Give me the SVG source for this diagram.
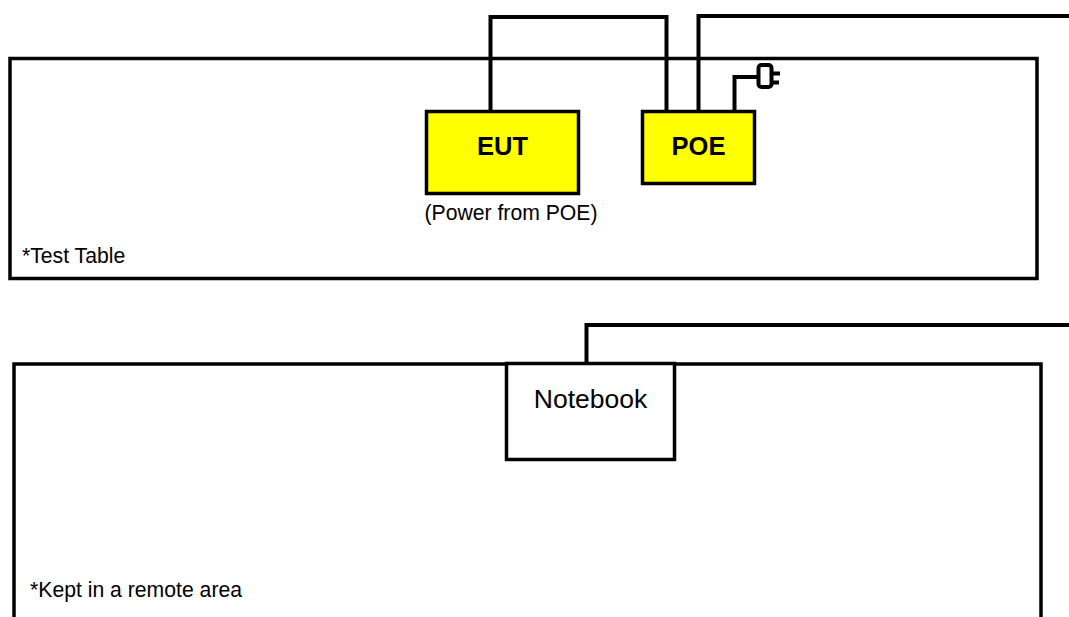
<svg xmlns="http://www.w3.org/2000/svg" width="1069" height="617" viewBox="0 0 1069 617">
<style>
.box{stroke:#000;stroke-width:3.5;fill:#fff}
.y{fill:#ffff00}
.w{stroke:#000;stroke-width:4;fill:none}
text{font-family:"Liberation Sans",Arial,sans-serif;fill:#000}
.b{font-size:25.500px;font-weight:bold;text-anchor:middle}
.s{font-size:21.200px}
</style>
<rect width="1069" height="617" fill="#fff"/>
<g id="test-table"><rect class="box" x="10" y="58.500" width="1027" height="220"/><text class="s" x="22" y="262.500">*Test Table</text></g>
<g id="remote-area"><path class="box" d="M14 617V364H1041V617"/><text class="s" x="30" y="597">*Kept in a remote area</text></g>
<g id="connectors">
<path class="w" d="M490.500 111V17H666.500V111"/>
<path class="w" d="M698.500 111V16H1069"/>
<path class="w" d="M734.500 111V77H758"/>
<path class="w" d="M586.500 364V325H1069"/>
</g>
<g id="plug"><rect x="758.500" y="65" width="13" height="22" rx="3" fill="#fff" stroke="#000" stroke-width="4"/><path d="M771 73.500H780M771 82.500H779" stroke="#000" stroke-width="4" fill="none"/></g>
<g id="eut"><rect class="box y" x="426.500" y="111.500" width="152" height="82"/><text class="b" x="502.500" y="155">EUT</text><text class="s" x="511" y="220" text-anchor="middle">(Power from POE)</text></g>
<g id="poe"><rect class="box y" x="642.500" y="111.500" width="112" height="72"/><text class="b" x="698.500" y="155">POE</text></g>
<g id="notebook"><rect class="box" x="506.500" y="363.500" width="168" height="96"/><text x="590.500" y="408" font-size="26.500" text-anchor="middle">Notebook</text></g>
</svg>
